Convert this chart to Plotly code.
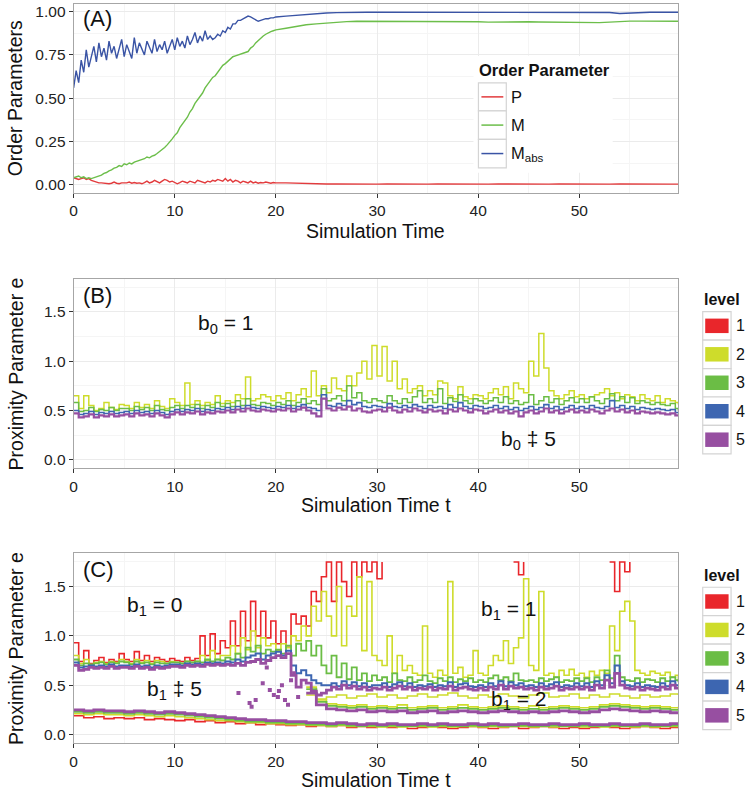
import plotly.graph_objects as go

W, H = 745, 790

# ---------------- data: panel A (order parameters) ----------------
T_A = [i * 0.25 for i in range(81)] + list(range(21, 60)) + [59.8]

P_A = [0.040, 0.035, 0.030, 0.035, 0.040, 0.030, 0.035, 0.025, 0.020, 0.015,
       0.010, 0.010, 0.008, 0.010, 0.005, 0.008, 0.015, 0.008, 0.005, 0.010,
       0.008, 0.010, 0.015, 0.008, 0.012, 0.008, 0.010, 0.005, 0.012, 0.020,
       0.010, 0.015, 0.025, 0.015, 0.010, 0.020, 0.030, 0.025, 0.015, 0.020,
       0.010, 0.005, 0.012, 0.020, 0.015, 0.010, 0.020, 0.015, 0.010, 0.025,
       0.020, 0.015, 0.010, 0.020, 0.015, 0.025, 0.020, 0.030, 0.025, 0.020,
       0.035, 0.020, 0.030, 0.015, 0.025, 0.020, 0.010, 0.020, 0.015, 0.010,
       0.020, 0.010, 0.015, 0.008, 0.012, 0.010, 0.015, 0.010, 0.008, 0.012,
       0.010,
       0.010, 0.008, 0.005, 0.005, 0.004, 0.004, 0.003, 0.004, 0.003, 0.003,
       0.004, 0.003, 0.004, 0.003, 0.003, 0.004, 0.003, 0.003, 0.004, 0.003,
       0.003, 0.004, 0.003, 0.003, 0.004, 0.003, 0.003, 0.004, 0.003, 0.003,
       0.004, 0.003, 0.003, 0.004, 0.003, 0.003, 0.004, 0.003, 0.003, 0.003]

M_A = [0.040, 0.045, 0.050, 0.040, 0.045, 0.035, 0.040, 0.035, 0.040, 0.045,
       0.050, 0.055, 0.065, 0.070, 0.080, 0.085, 0.095, 0.100, 0.110, 0.105,
       0.120, 0.115, 0.125, 0.120, 0.130, 0.135, 0.140, 0.145, 0.150, 0.160,
       0.155, 0.165, 0.170, 0.180, 0.190, 0.200, 0.215, 0.230, 0.245, 0.265,
       0.285, 0.300, 0.330, 0.350, 0.370, 0.390, 0.420, 0.440, 0.470, 0.490,
       0.510, 0.530, 0.560, 0.580, 0.600, 0.620, 0.630, 0.650, 0.670, 0.690,
       0.700, 0.715, 0.730, 0.740, 0.745, 0.750, 0.755, 0.760, 0.765, 0.770,
       0.790, 0.800, 0.820, 0.835, 0.850, 0.860, 0.870, 0.880, 0.885, 0.890,
       0.895,
       0.905, 0.915, 0.925, 0.930, 0.935, 0.940, 0.943, 0.945, 0.945, 0.945,
       0.945, 0.944, 0.944, 0.943, 0.943, 0.944, 0.945, 0.944, 0.943, 0.942,
       0.940, 0.941, 0.943, 0.943, 0.942, 0.941, 0.940, 0.939, 0.938, 0.938,
       0.938, 0.937, 0.940, 0.944, 0.946, 0.946, 0.946, 0.946, 0.945, 0.945]

MABS_A = [0.56, 0.66, 0.59, 0.72, 0.65, 0.78, 0.68, 0.75, 0.80, 0.71,
          0.82, 0.74, 0.79, 0.72, 0.83, 0.76, 0.80, 0.73, 0.78, 0.84,
          0.74, 0.81, 0.77, 0.73, 0.85, 0.76, 0.82, 0.78, 0.75, 0.83,
          0.79, 0.76, 0.84, 0.77, 0.81, 0.78, 0.83, 0.76, 0.80, 0.84,
          0.78, 0.85, 0.80, 0.83, 0.79, 0.86, 0.81, 0.84, 0.88, 0.82,
          0.86, 0.83, 0.89, 0.84, 0.86, 0.84, 0.85, 0.87, 0.86, 0.89,
          0.88, 0.91, 0.90, 0.93, 0.93, 0.95, 0.95, 0.96, 0.97, 0.975,
          0.97, 0.96, 0.95, 0.945, 0.95, 0.955, 0.96, 0.96, 0.965, 0.965,
          0.97,
          0.975, 0.980, 0.985, 0.990, 0.993, 0.995, 0.997, 0.997, 0.997, 0.997,
          0.997, 0.996, 0.997, 0.997, 0.995, 0.996, 0.997, 0.997, 0.997, 0.997,
          0.997, 0.997, 0.996, 0.995, 0.996, 0.997, 0.997, 0.997, 0.997, 0.997,
          0.997, 0.997, 0.996, 0.990, 0.993, 0.996, 0.997, 0.997, 0.997, 0.997]

# ---------------- data: panel B (b0 proximity, levels 2..5) ----------------
T_B = [i * 0.5 for i in range(120)] + [59.8]

B_L2 = [0.65, 0.52, 0.65, 0.55, 0.50, 0.52, 0.58, 0.53, 0.51, 0.56,
        0.55, 0.52, 0.58, 0.53, 0.56, 0.52, 0.60, 0.54, 0.52, 0.62,
        0.58, 0.55, 0.78, 0.56, 0.60, 0.55, 0.58, 0.56, 0.65, 0.57,
        0.60, 0.58, 0.66, 0.62, 0.84, 0.60, 0.62, 0.66, 0.64, 0.60,
        0.65, 0.62, 0.68, 0.60, 0.66, 0.72, 0.64, 0.90, 0.65, 0.75,
        0.68, 0.83, 0.72, 0.70, 0.85, 0.75, 0.88, 1.00, 0.82, 1.16,
        0.85, 1.15, 0.80, 1.00, 0.72, 0.82, 0.68, 0.72, 0.75, 0.65,
        0.70, 0.66, 0.80, 0.78, 0.65, 0.62, 0.74, 0.64, 0.62, 0.66,
        0.65, 0.62, 0.68, 0.72, 0.66, 0.74, 0.62, 0.78, 0.72, 0.68,
        1.00, 0.85, 1.28, 0.93, 0.70, 0.65, 0.62, 0.66, 0.70, 0.64,
        0.66, 0.62, 0.64, 0.66, 0.68, 0.72, 0.65, 0.68, 0.62, 0.66,
        0.64, 0.60, 0.66, 0.62, 0.60, 0.65, 0.58, 0.62, 0.60, 0.58,
        0.56]

B_L3 = [0.58, 0.49, 0.50, 0.53, 0.49, 0.51, 0.50, 0.53, 0.50, 0.52,
        0.52, 0.50, 0.54, 0.51, 0.53, 0.50, 0.55, 0.51, 0.50, 0.53,
        0.55, 0.52, 0.55, 0.53, 0.56, 0.52, 0.55, 0.53, 0.58, 0.54,
        0.57, 0.54, 0.60, 0.55, 0.62, 0.56, 0.55, 0.58, 0.57, 0.55,
        0.58, 0.56, 0.60, 0.55, 0.58, 0.62, 0.57, 0.60, 0.56, 0.72,
        0.60, 0.62, 0.65, 0.60, 0.75, 0.63, 0.68, 0.60, 0.58, 0.62,
        0.60, 0.58, 0.65, 0.60, 0.57, 0.62, 0.58, 0.64, 0.70, 0.58,
        0.62, 0.58, 0.72, 0.57, 0.63, 0.59, 0.66, 0.60, 0.57, 0.62,
        0.60, 0.57, 0.60, 0.63, 0.58, 0.64, 0.57, 0.60, 0.56, 0.58,
        0.66, 0.56, 0.60, 0.64, 0.58, 0.62, 0.56, 0.60, 0.63, 0.58,
        0.62, 0.58, 0.64, 0.60, 0.57, 0.62, 0.67, 0.60, 0.64, 0.58,
        0.63, 0.57, 0.60, 0.58, 0.56, 0.58, 0.56, 0.55, 0.57, 0.52,
        0.50]

B_L4 = [0.50, 0.46, 0.47, 0.49, 0.46, 0.48, 0.47, 0.49, 0.47, 0.48,
        0.49, 0.47, 0.50, 0.48, 0.49, 0.47, 0.50, 0.48, 0.46, 0.49,
        0.51, 0.49, 0.51, 0.50, 0.52, 0.49, 0.51, 0.50, 0.52, 0.51,
        0.53, 0.51, 0.54, 0.52, 0.55, 0.53, 0.52, 0.54, 0.53, 0.52,
        0.54, 0.53, 0.55, 0.52, 0.54, 0.56, 0.53, 0.52, 0.50, 0.66,
        0.55, 0.54, 0.57, 0.55, 0.60, 0.56, 0.58, 0.54, 0.53, 0.55,
        0.54, 0.53, 0.57, 0.54, 0.53, 0.55, 0.53, 0.56, 0.54, 0.52,
        0.55, 0.53, 0.54, 0.52, 0.56, 0.53, 0.58, 0.54, 0.52, 0.55,
        0.54, 0.52, 0.53, 0.55, 0.52, 0.54, 0.51, 0.53, 0.50, 0.52,
        0.54, 0.51, 0.53, 0.56, 0.52, 0.54, 0.51, 0.53, 0.55, 0.52,
        0.54, 0.52, 0.55, 0.53, 0.52, 0.54, 0.60, 0.53, 0.55, 0.52,
        0.54, 0.51, 0.53, 0.52, 0.51, 0.52, 0.51, 0.50, 0.51, 0.48,
        0.47]

B_L5 = [0.47, 0.43, 0.44, 0.46, 0.43, 0.45, 0.44, 0.46, 0.44, 0.45,
        0.46, 0.44, 0.47, 0.45, 0.46, 0.44, 0.47, 0.45, 0.43, 0.46,
        0.48, 0.46, 0.48, 0.47, 0.49, 0.46, 0.48, 0.47, 0.49, 0.48,
        0.50, 0.48, 0.51, 0.49, 0.52, 0.50, 0.49, 0.51, 0.50, 0.49,
        0.51, 0.50, 0.52, 0.49, 0.51, 0.53, 0.50, 0.47, 0.44, 0.62,
        0.52, 0.50, 0.53, 0.51, 0.54, 0.50, 0.52, 0.49, 0.48, 0.50,
        0.51, 0.49, 0.53, 0.50, 0.48, 0.51, 0.49, 0.52, 0.50, 0.48,
        0.51, 0.49, 0.50, 0.47, 0.51, 0.49, 0.52, 0.50, 0.48, 0.51,
        0.50, 0.47, 0.49, 0.51, 0.48, 0.50, 0.47, 0.49, 0.44, 0.48,
        0.50, 0.47, 0.49, 0.52, 0.48, 0.50, 0.47, 0.49, 0.51, 0.48,
        0.50, 0.48, 0.51, 0.49, 0.47, 0.50, 0.52, 0.49, 0.51, 0.48,
        0.50, 0.47, 0.49, 0.48, 0.47, 0.48, 0.47, 0.46, 0.47, 0.45,
        0.45]

# ---------------- data: panel C (b1 proximity) ----------------
T_C = [i * 0.5 for i in range(120)] + [59.8]
N = None

C_L1 = [0.93, 0.74, 0.85, 0.72, 0.75, 0.78, 0.73, 0.76, 0.74, 0.82,
        0.76, 0.74, 0.84, 0.75, 0.80, 0.74, 0.78, 0.76, 0.74, 0.77,
        0.75, 0.74, 0.78, 0.75, 0.77, 1.00, 0.80, 1.02, 0.82, 0.95,
        0.88, 1.15, 0.90, 1.25, 0.95, 1.35, 1.00, 1.25, 0.98, 1.15,
        0.92, 1.05, 0.90, 1.22, 1.12, 1.20, 1.10, 1.45, 1.35, 1.60,
        1.75, 1.35, 1.75, 1.55, 1.40, 1.75, 1.60, 1.75, 1.65, 1.75,
        1.58, 1.75, N, N, N, N, N, N, N, N,
        N, N, N, N, N, N, N, N, N, N,
        N, N, N, N, N, N, N, 1.75, 1.62, 1.75,
        N, N, N, N, N, N, N, N, N, N,
        N, N, N, N, N, N, 1.75, 1.45, 1.75, 1.65,
        1.75, N, N, N, N, N, N, N, N, N,
        N]

C_L2 = [0.80, 0.72, 0.76, 0.71, 0.73, 0.74, 0.72, 0.74, 0.73, 0.76,
        0.74, 0.72, 0.76, 0.73, 0.75, 0.72, 0.75, 0.74, 0.72, 0.74,
        0.73, 0.72, 0.74, 0.73, 0.74, 0.80, 0.75, 0.85, 0.76, 0.80,
        0.80, 0.90, 0.82, 0.98, 0.86, 1.05, 0.88, 0.98, 0.90, 0.92,
        0.85, 0.92, 0.88, 1.00, 0.95, 1.10, 1.00, 1.30, 1.15, 1.45,
        1.20, 1.00, 1.50, 0.90, 1.30, 1.20, 1.60, 0.85, 1.55, 0.80,
        0.75, 0.70, 1.00, 0.62, 0.80, 0.65, 0.70, 0.62, 0.60, 1.10,
        0.62, 0.58, 0.65, 0.60, 1.55, 0.62, 0.68, 0.58, 0.60, 0.85,
        0.62, 0.60, 0.70, 0.80, 0.75, 0.95, 0.72, 0.88, 0.98, 1.58,
        0.70, 0.65, 1.45, 0.60, 0.62, 0.58, 0.65, 0.60, 0.66, 0.60,
        0.62, 0.58, 0.64, 0.60, 0.65, 0.62, 1.10, 0.85, 1.25, 1.35,
        1.15, 0.65, 0.62, 0.60, 0.64, 0.62, 0.60, 0.63, 0.58, 0.60,
        0.55]

C_L3 = [0.76, 0.70, 0.72, 0.71, 0.72, 0.73, 0.71, 0.73, 0.72, 0.74,
        0.73, 0.71, 0.74, 0.72, 0.73, 0.71, 0.73, 0.72, 0.72, 0.73,
        0.73, 0.72, 0.74, 0.73, 0.74, 0.73, 0.76, 0.74, 0.76, 0.75,
        0.78, 0.76, 0.82, 0.78, 0.88, 0.84, 0.90, 0.82, 0.86, 0.84,
        0.86, 0.82, 0.90, 0.80, 0.92, 0.85, 0.95, 0.80, 0.90, 0.70,
        0.62, 0.80, 0.58, 0.72, 0.56, 0.68, 0.55, 0.62, 0.54, 0.60,
        0.55, 0.58, 0.53, 0.62, 0.55, 0.54, 0.58, 0.53, 0.55, 0.60,
        0.54, 0.52, 0.57, 0.54, 0.58, 0.53, 0.56, 0.54, 0.57, 0.53,
        0.55, 0.53, 0.57, 0.60, 0.55, 0.58, 0.54, 0.62, 0.55, 0.54,
        0.55, 0.53, 0.57, 0.54, 0.56, 0.58, 0.53, 0.55, 0.54, 0.57,
        0.54, 0.57, 0.53, 0.58, 0.55, 0.65, 0.57, 0.80, 0.58, 0.55,
        0.54, 0.57, 0.53, 0.56, 0.55, 0.53, 0.57, 0.54, 0.58, 0.55,
        0.53]

C_L4 = [0.73, 0.68, 0.69, 0.70, 0.69, 0.70, 0.69, 0.71, 0.69, 0.70,
        0.70, 0.69, 0.71, 0.69, 0.70, 0.68, 0.70, 0.69, 0.70, 0.71,
        0.71, 0.70, 0.72, 0.71, 0.72, 0.71, 0.73, 0.72, 0.73, 0.72,
        0.74, 0.73, 0.76, 0.74, 0.78, 0.80, 0.82, 0.76, 0.80, 0.82,
        0.84, 0.80, 0.85, 0.70, 0.62, 0.65, 0.60, 0.55, 0.52, 0.50,
        0.50, 0.52, 0.49, 0.54, 0.50, 0.53, 0.49, 0.52, 0.48, 0.50,
        0.50, 0.52, 0.48, 0.51, 0.53, 0.49, 0.52, 0.48, 0.50, 0.49,
        0.51, 0.48, 0.50, 0.49, 0.53, 0.48, 0.51, 0.52, 0.49, 0.48,
        0.50, 0.48, 0.52, 0.49, 0.54, 0.49, 0.53, 0.50, 0.52, 0.49,
        0.50, 0.48, 0.52, 0.49, 0.51, 0.53, 0.48, 0.50, 0.49, 0.52,
        0.49, 0.52, 0.48, 0.54, 0.50, 0.60, 0.52, 0.70, 0.54, 0.50,
        0.49, 0.52, 0.48, 0.50, 0.49, 0.48, 0.52, 0.49, 0.54, 0.50,
        0.50]

C_L5 = [0.70, 0.65, 0.66, 0.68, 0.67, 0.68, 0.67, 0.69, 0.67, 0.68,
        0.68, 0.67, 0.69, 0.67, 0.68, 0.66, 0.68, 0.67, 0.68, 0.69,
        0.69, 0.68, 0.70, 0.69, 0.70, 0.69, 0.71, 0.70, 0.71, 0.70,
        0.71, 0.70, 0.72, 0.70, 0.73, 0.74, 0.76, 0.72, 0.75, 0.78,
        0.80, 0.78, 0.82, 0.60, 0.48, 0.55, 0.52, 0.44, 0.40, 0.42,
        0.45, 0.48, 0.46, 0.50, 0.47, 0.49, 0.46, 0.48, 0.45, 0.47,
        0.46, 0.48, 0.45, 0.47, 0.49, 0.46, 0.48, 0.45, 0.47, 0.46,
        0.48, 0.45, 0.47, 0.46, 0.49, 0.45, 0.47, 0.48, 0.46, 0.45,
        0.47, 0.45, 0.48, 0.46, 0.50, 0.46, 0.49, 0.47, 0.48, 0.46,
        0.47, 0.45, 0.48, 0.46, 0.47, 0.49, 0.45, 0.47, 0.46, 0.48,
        0.46, 0.48, 0.45, 0.50, 0.47, 0.55, 0.48, 0.62, 0.50, 0.47,
        0.46, 0.48, 0.45, 0.47, 0.46, 0.45, 0.48, 0.46, 0.50, 0.47,
        0.47]

# b1 = 1 band lower edge and b1 = 2 band (t >= 23)
T_C_MID = list(range(23, 60)) + [59.8]
C_L2_EDGE = [0.40, 0.36, 0.38, 0.40, 0.37, 0.39, 0.41, 0.38, 0.40, 0.37,
             0.39, 0.41, 0.38, 0.40, 0.42, 0.39, 0.37, 0.40, 0.38, 0.41,
             0.39, 0.37, 0.40, 0.42, 0.38, 0.39, 0.41, 0.37, 0.40, 0.38,
             0.41, 0.39, 0.37, 0.40, 0.38, 0.39, 0.41, 0.40]
C_L2_B2 = [0.48, 0.35, 0.31, 0.30, 0.29, 0.30, 0.28, 0.29, 0.28, 0.30,
           0.27, 0.28, 0.29, 0.27, 0.28, 0.30, 0.28, 0.27, 0.28, 0.29,
           0.28, 0.27, 0.29, 0.27, 0.28, 0.29, 0.28, 0.27, 0.28, 0.30,
           0.31, 0.30, 0.29, 0.28, 0.29, 0.28, 0.27, 0.28]
C_L3_B2 = [0.46, 0.33, 0.29, 0.28, 0.27, 0.28, 0.26, 0.27, 0.26, 0.27,
           0.25, 0.26, 0.27, 0.25, 0.26, 0.27, 0.26, 0.25, 0.26, 0.27,
           0.26, 0.25, 0.26, 0.25, 0.26, 0.27, 0.26, 0.25, 0.26, 0.28,
           0.29, 0.28, 0.27, 0.26, 0.27, 0.26, 0.25, 0.26]
C_L5_B2 = [0.42, 0.30, 0.26, 0.25, 0.24, 0.25, 0.23, 0.24, 0.23, 0.24,
           0.22, 0.23, 0.24, 0.22, 0.23, 0.24, 0.23, 0.22, 0.23, 0.24,
           0.23, 0.22, 0.23, 0.22, 0.23, 0.24, 0.23, 0.22, 0.23, 0.25,
           0.26, 0.25, 0.24, 0.23, 0.24, 0.23, 0.22, 0.23]

# b1 >= 5 band (bottom)
T_C_LOW = list(range(0, 60)) + [59.8]
C_L1_LOW = [0.19, 0.17, 0.18, 0.16, 0.17, 0.16, 0.17, 0.15, 0.16, 0.15,
            0.14, 0.15, 0.13, 0.14, 0.12, 0.13, 0.11, 0.12, 0.10, 0.11,
            0.10, 0.09, 0.10, 0.08, 0.09, 0.08, 0.09, 0.07, 0.08, 0.07,
            0.08, 0.07, 0.08, 0.06, 0.07, 0.08, 0.07, 0.06, 0.07, 0.08,
            0.07, 0.06, 0.07, 0.08, 0.06, 0.07, 0.08, 0.07, 0.06, 0.07,
            0.06, 0.07, 0.08, 0.07, 0.06, 0.07, 0.08, 0.07, 0.06, 0.07,
            0.07]
C_L2_LOW = [0.21, 0.20, 0.21, 0.20, 0.20, 0.19, 0.20, 0.19, 0.18, 0.19,
            0.18, 0.17, 0.16, 0.15, 0.14, 0.14, 0.13, 0.12, 0.12, 0.11,
            0.11, 0.10, 0.10, 0.09, 0.09, 0.08, 0.09, 0.08, 0.08, 0.08,
            0.075, 0.08, 0.075, 0.08, 0.08, 0.075, 0.08, 0.075, 0.08, 0.08,
            0.075, 0.08, 0.075, 0.08, 0.08, 0.075, 0.08, 0.075, 0.08, 0.08,
            0.075, 0.08, 0.075, 0.08, 0.08, 0.075, 0.08, 0.075, 0.08, 0.08,
            0.075]
C_L3_LOW = [0.23, 0.22, 0.23, 0.22, 0.22, 0.21, 0.22, 0.21, 0.20, 0.21,
            0.20, 0.19, 0.18, 0.17, 0.16, 0.15, 0.14, 0.13, 0.13, 0.12,
            0.12, 0.11, 0.11, 0.10, 0.10, 0.09, 0.10, 0.09, 0.085, 0.09,
            0.085, 0.09, 0.085, 0.085, 0.09, 0.085, 0.09, 0.085, 0.085, 0.09,
            0.085, 0.09, 0.085, 0.085, 0.09, 0.085, 0.085, 0.09, 0.085, 0.085,
            0.09, 0.085, 0.085, 0.09, 0.085, 0.085, 0.09, 0.085, 0.085, 0.09,
            0.085]
C_L5_LOW = [0.25, 0.24, 0.25, 0.24, 0.24, 0.23, 0.24, 0.23, 0.22, 0.23,
            0.22, 0.21, 0.20, 0.19, 0.18, 0.17, 0.16, 0.15, 0.15, 0.14,
            0.14, 0.13, 0.13, 0.12, 0.12, 0.11, 0.12, 0.11, 0.10, 0.11,
            0.10, 0.11, 0.10, 0.10, 0.11, 0.10, 0.11, 0.10, 0.10, 0.11,
            0.10, 0.11, 0.10, 0.10, 0.11, 0.10, 0.10, 0.11, 0.10, 0.10,
            0.11, 0.10, 0.10, 0.11, 0.10, 0.10, 0.11, 0.10, 0.10, 0.11,
            0.10]

# stray level-5 fragments during the transition
C_L5_PTS_T = [16.3, 17.4, 17.6, 18.0, 18.7, 19.1, 19.4, 19.8, 20.2, 20.3, 20.6, 20.9, 21.2, 21.5, 21.8, 22.2]
C_L5_PTS_E = [0.42, 0.32, 0.28, 0.35, 0.52, 0.68, 0.45, 0.40, 0.38, 0.44, 0.50, 0.35, 0.30, 0.55, 0.62, 0.38]

ORDER_NAMES = ["P", "M", "M<sub>abs</sub>"]
LEVELS = ["1", "2", "3", "4", "5"]
X_TICKS = [0, 10, 20, 30, 40, 50]
A_TICKS = [0.0, 0.25, 0.5, 0.75, 1.0]
E_TICKS = [0.0, 0.5, 1.0, 1.5]

for a, b in [(T_A, P_A), (T_A, M_A), (T_A, MABS_A), (T_B, B_L2), (T_B, B_L3), (T_B, B_L4), (T_B, B_L5),
             (T_C, C_L1), (T_C, C_L2), (T_C, C_L3), (T_C, C_L4), (T_C, C_L5),
             (T_C_MID, C_L2_EDGE), (T_C_MID, C_L2_B2), (T_C_MID, C_L3_B2), (T_C_MID, C_L5_B2),
             (T_C_LOW, C_L1_LOW), (T_C_LOW, C_L2_LOW), (T_C_LOW, C_L3_LOW), (T_C_LOW, C_L5_LOW)]:
    assert len(a) == len(b), (len(a), len(b))

# ---------------- styling ----------------
FONT = "Liberation Sans"
ORDER_COLORS = ["#E23B3D", "#6CBE4A", "#3A54A5"]
LEVEL_COLORS = ["#E9262B", "#CEDC2B", "#6BBD45", "#3D66B1", "#974FA1"]


def px(x):
    return x / W


def py(y):
    return 1 - y / H


fig = go.Figure()

# panel A
for name, ys, col in zip(ORDER_NAMES, [P_A, M_A, MABS_A], ORDER_COLORS):
    fig.add_trace(go.Scatter(x=T_A, y=ys, mode="lines", line=dict(color=col, width=1.4),
                             xaxis="x", yaxis="y", showlegend=False, name=name))

# panel B (level 1 lies under level 2)
for ys, col, wd in [(B_L2, LEVEL_COLORS[1], 1.5), (B_L3, LEVEL_COLORS[2], 1.5),
                    (B_L4, LEVEL_COLORS[3], 1.6), (B_L5, LEVEL_COLORS[4], 2.2)]:
    fig.add_trace(go.Scatter(x=T_B, y=ys, mode="lines", line=dict(color=col, width=wd, shape="hv"),
                             xaxis="x2", yaxis="y2", showlegend=False))

# panel C
c_traces = [
    (T_C, C_L1, 0, 1.6), (T_C_LOW, C_L1_LOW, 0, 1.6),
    (T_C, C_L2, 1, 1.6), (T_C_MID, C_L2_EDGE, 1, 1.6), (T_C_MID, C_L2_B2, 1, 1.6), (T_C_LOW, C_L2_LOW, 1, 1.6),
    (T_C, C_L3, 2, 1.8), (T_C_MID, C_L3_B2, 2, 1.8), (T_C_LOW, C_L3_LOW, 2, 1.8),
    (T_C, C_L4, 3, 2.0),
    (T_C, C_L5, 4, 2.8), (T_C_MID, C_L5_B2, 4, 2.8), (T_C_LOW, C_L5_LOW, 4, 2.8),
]
for xs, ys, ci, wd in c_traces:
    fig.add_trace(go.Scatter(x=xs, y=ys, mode="lines", line=dict(color=LEVEL_COLORS[ci], width=wd, shape="hv"),
                             xaxis="x3", yaxis="y3", showlegend=False, connectgaps=False))
fig.add_trace(go.Scatter(x=C_L5_PTS_T, y=C_L5_PTS_E, mode="markers",
                         marker=dict(color=LEVEL_COLORS[4], size=4, symbol="square"),
                         xaxis="x3", yaxis="y3", showlegend=False))

XDOM = [px(70), px(678)]
axis_common = dict(showline=True, linecolor="#a6a6a6", linewidth=1, mirror=True, zeroline=False,
                   ticks="outside", ticklen=4, tickcolor="#333333", tickwidth=1,
                   tickfont=dict(family=FONT, size=15.5, color="#222222"),
                   showgrid=True, gridcolor="#ebebeb", gridwidth=1)
xaxis_common = dict(axis_common, range=[0, 59.8], tickmode="array", tickvals=X_TICKS,
                    minor=dict(tickmode="array", tickvals=[5, 15, 25, 35, 45, 55], showgrid=True,
                               gridcolor="#f5f5f5", ticks=""), domain=XDOM)

fig.update_layout(
    width=W, height=H, margin=dict(l=0, r=0, t=0, b=0), autosize=False,
    paper_bgcolor="white", plot_bgcolor="white", font=dict(family=FONT, color="#111111"),
    xaxis=dict(xaxis_common, anchor="y"),
    yaxis=dict(axis_common, anchor="x", domain=[py(192), py(3)], range=[-0.047, 1.045],
               tickmode="array", tickvals=A_TICKS, tickformat=".2f",
               minor=dict(tickmode="array", tickvals=[0.125, 0.375, 0.625, 0.875], showgrid=True,
                          gridcolor="#f5f5f5", ticks="")),
    xaxis2=dict(xaxis_common, anchor="y2"),
    yaxis2=dict(axis_common, anchor="x2", domain=[py(468), py(278)], range=[-0.0875, 1.8375],
                tickmode="array", tickvals=E_TICKS, tickformat=".1f",
                minor=dict(tickmode="array", tickvals=[0.25, 0.75, 1.25, 1.75], showgrid=True,
                           gridcolor="#f5f5f5", ticks="")),
    xaxis3=dict(xaxis_common, anchor="y3"),
    yaxis3=dict(axis_common, anchor="x3", domain=[py(743), py(553)], range=[-0.0875, 1.8375],
                tickmode="array", tickvals=E_TICKS, tickformat=".1f",
                minor=dict(tickmode="array", tickvals=[0.25, 0.75, 1.25, 1.75], showgrid=True,
                           gridcolor="#f5f5f5", ticks="")),
)

ann = []
shapes = []


def text(x, y, s, size, xanchor="left", bold=False, angle=0, color="#111111"):
    ann.append(dict(x=px(x), y=py(y), xref="paper", yref="paper", text=("<b>%s</b>" % s) if bold else s,
                    showarrow=False, xanchor=xanchor, yanchor="middle", textangle=angle,
                    font=dict(family=FONT, size=size, color=color)))


# axis titles
text(374, 230, "Simulation Time", 19.5, "center")
text(374, 505, "Simulation Time t", 19.5, "center")
text(374, 780, "Simulation Time t", 19.5, "center")
text(11, 97.5, "Order Parameters", 19.5, "center", angle=-90)
text(12, 373, "Proximity Parameter e", 19.5, "center", angle=-90)
text(12, 648, "Proximity Parameter e", 19.5, "center", angle=-90)

# panel tags
text(77, 18, "(A)", 22)
text(77, 295, "(B)", 22)
text(77, 569, "(C)", 22)

# in-plot labels
text(193, 323, "b<sub>0</sub> = 1", 21)
text(498, 440, "b<sub>0</sub> ‡ 5", 21)
text(122, 606, "b<sub>1</sub> = 0", 21)
text(142, 690, "b<sub>1</sub> ‡ 5", 21)
text(478, 610, "b<sub>1</sub> = 1", 21)
text(488, 700, "b<sub>1</sub> = 2", 21)

# legend A (inside panel A)
shapes.append(dict(type="rect", xref="paper", yref="paper", x0=px(472), x1=px(612), y0=py(172), y1=py(55),
                   fillcolor="white", line=dict(width=0), layer="above"))
text(476, 69, "Order Parameter", 16.5, bold=True)
rows_A = [82, 110, 138.5, 167]
for i, (nm, col) in enumerate(zip(ORDER_NAMES, ORDER_COLORS)):
    y0, y1 = rows_A[i], rows_A[i + 1]
    shapes.append(dict(type="rect", xref="paper", yref="paper", x0=px(477), x1=px(505), y0=py(y1), y1=py(y0),
                       fillcolor="white", line=dict(color="#d4d4d4", width=1.2), layer="above"))
    ym = (y0 + y1) / 2
    shapes.append(dict(type="line", xref="paper", yref="paper", x0=px(480), x1=px(502), y0=py(ym), y1=py(ym),
                       line=dict(color=col, width=1.5), layer="above"))
    text(508, ym, nm, 16.5)


def level_legend(title_y, top):
    text(702, title_y, "level", 16, bold=True)
    step = 28.5
    for i, (lv, col) in enumerate(zip(LEVELS, LEVEL_COLORS)):
        y0 = top + i * step
        y1 = y0 + step
        shapes.append(dict(type="rect", xref="paper", yref="paper", x0=px(702.5), x1=px(731), y0=py(y1), y1=py(y0),
                           fillcolor="white", line=dict(color="#d4d4d4", width=1.2)))
        shapes.append(dict(type="rect", xref="paper", yref="paper", x0=px(705), x1=px(728.5),
                           y0=py(y1 - 7), y1=py(y0 + 7), fillcolor=col, line=dict(width=0)))
        text(734, (y0 + y1) / 2, lv, 16)


level_legend(299, 311)
level_legend(575, 587)

fig.update_layout(annotations=ann, shapes=shapes)
fig.write_html("out.html", config={"displayModeBar": False},
               post_script="document.body.style.margin='0';document.body.style.overflow='hidden';"
                           "document.documentElement.style.overflow='hidden';")
